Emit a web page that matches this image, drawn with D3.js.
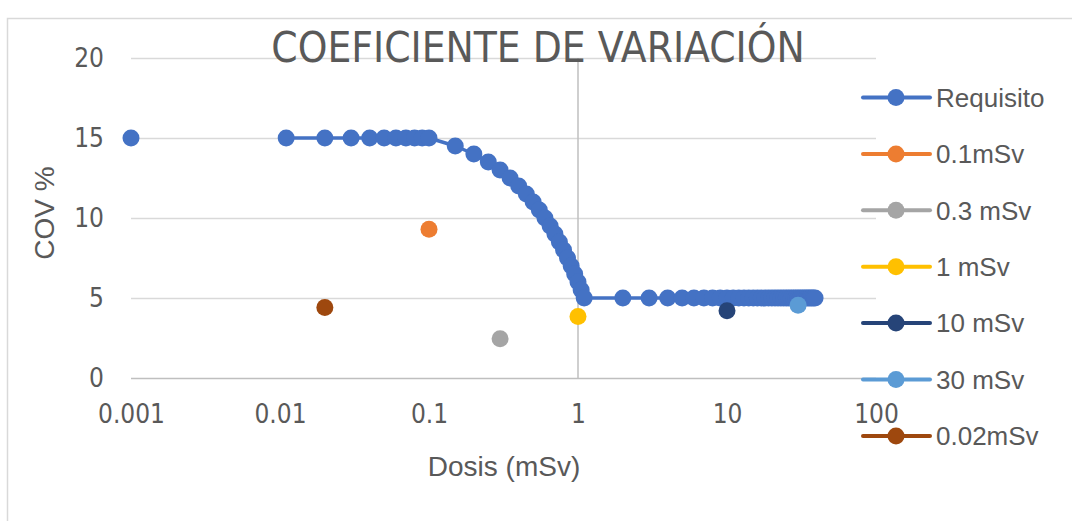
<!DOCTYPE html>
<html>
<head>
<meta charset="utf-8">
<script src="https://cdn.jsdelivr.net/npm/d3@7"></script>
<style>
  html, body { margin: 0; padding: 0; background: #fff; }
  svg { display: block; }
  text { fill: #595959; }
</style>
</head>
<body>
<svg id="chart" width="1072" height="521"></svg>
<script>
// ---------- data ----------
const chartTitle = "COEFICIENTE DE VARIACIÓN";
const xTitle = "Dosis (mSv)";
const yTitle = "COV %";
const xTicks = [0.001, 0.01, 0.1, 1, 10, 100];
const xTickLabels = ["0.001", "0.01", "0.1", "1", "10", "100"];
const yTicks = [0, 5, 10, 15, 20];

// "Requisito" series (null = gap in the line)
const reqX = [0.001, null, 0.011, 0.02, 0.03, 0.04, 0.05, 0.06, 0.07, 0.08, 0.09, 0.1,
  0.15, 0.2, 0.25, 0.3, 0.35, 0.4, 0.45, 0.5, 0.55, 0.6, 0.65, 0.7, 0.75, 0.8, 0.85, 0.9, 0.95, 1.0, 1.05, 1.1,
  2, 3, 4, 5, 6, 7, 8, 9, 10, 11, 12, 13, 14, 15, 16, 17, 18, 19, 20,
  21, 22, 23, 24, 25, 26, 27, 28, 29, 30, 31, 32, 33, 34, 35, 36, 37, 38, 39, 40];
const reqY = [15, null, 15, 15, 15, 15, 15, 15, 15, 15, 15, 15,
  14.5, 14, 13.5, 13, 12.5, 12, 11.5, 11, 10.5, 10, 9.5, 9, 8.5, 8, 7.5, 7, 6.5, 6, 5.5, 5,
  5, 5, 5, 5, 5, 5, 5, 5, 5, 5, 5, 5, 5, 5, 5, 5, 5, 5, 5,
  5, 5, 5, 5, 5, 5, 5, 5, 5, 5, 5, 5, 5, 5, 5, 5, 5, 5, 5];

// single-point measurement series
const measNames  = ["0.1mSv", "0.3 mSv", "1 mSv", "10 mSv", "30 mSv", "0.02mSv"];
const measX      = [0.1, 0.3, 1, 10, 30, 0.02];
const measY      = [9.3, 2.45, 3.85, 4.2, 4.55, 4.4];
const measColors = ["#ED7D31", "#A5A5A5", "#FFC000", "#264478", "#5B9BD5", "#9E480E"];
const reqName = "Requisito";
const reqColor = "#4472C4";

// ---------- layout ----------
const svg = d3.select("#chart");
const plot = { left: 131, right: 876, top: 58, bottom: 378 };
const x = d3.scaleLog().domain([0.001, 100]).range([plot.left, plot.right]);
const y = d3.scaleLinear().domain([0, 20]).range([plot.bottom, plot.top]);
const tickFont = "'Liberation Sans Narrow', 'DejaVu Sans Condensed', sans-serif";
const bodyFont = "'Liberation Sans', Arial, sans-serif";

svg.append("rect").attr("width", 1072).attr("height", 521).attr("fill", "#fff");
// chart border
svg.append("rect").attr("x", 7.5).attr("y", 18.5).attr("width", 1100).attr("height", 600)
  .attr("fill", "none").attr("stroke", "#d9d9d9").attr("stroke-width", 1.5);

// gridlines (y)
const gy = svg.append("g")
  .attr("transform", `translate(${plot.left},0)`)
  .call(d3.axisLeft(y).tickValues(yTicks).tickSize(-(plot.right - plot.left)).tickFormat(""));
gy.select(".domain").remove();
gy.selectAll(".tick line").attr("stroke", "#d9d9d9").attr("stroke-width", 1.5);
gy.selectAll(".tick").filter(d => d === 0).select("line").attr("stroke", "#bfbfbf");

// vertical axis line crossing at x = 1
svg.append("line")
  .attr("x1", x(1)).attr("x2", x(1)).attr("y1", plot.top).attr("y2", plot.bottom)
  .attr("stroke", "#bfbfbf").attr("stroke-width", 1.5);

// y tick labels
const yl = svg.append("g")
  .attr("transform", `translate(104,0)`)
  .call(d3.axisLeft(y).tickValues(yTicks).tickSize(0).tickPadding(0));
yl.select(".domain").remove();
yl.selectAll("text").style("font-family", tickFont).style("font-size", "26px").attr("fill", "#595959");

// x tick labels
const xl = svg.append("g")
  .attr("transform", `translate(0,405)`)
  .call(d3.axisBottom(x).tickValues(xTicks).tickSize(0).tickPadding(0)
    .tickFormat((d, i) => xTickLabels[i]));
xl.select(".domain").remove();
xl.selectAll("text").style("font-family", tickFont).style("font-size", "26px").attr("fill", "#595959");

// titles
svg.append("text").attr("x", 538).attr("y", 62).attr("text-anchor", "middle")
  .style("font-family", tickFont).style("font-size", "42px").text(chartTitle);
svg.append("text").attr("x", 504).attr("y", 476).attr("text-anchor", "middle")
  .style("font-family", bodyFont).style("font-size", "28px").text(xTitle);
svg.append("text").attr("transform", "translate(54,213) rotate(-90)").attr("text-anchor", "middle")
  .style("font-family", bodyFont).style("font-size", "28px").text(yTitle);

// Requisito line + markers
const reqData = reqX.map((v, i) => ({ x: v, y: reqY[i] }));
const line = d3.line().defined(d => d.x != null && d.y != null).x(d => x(d.x)).y(d => y(d.y));
svg.append("path").datum(reqData).attr("d", line)
  .attr("fill", "none").attr("stroke", reqColor).attr("stroke-width", 3.5).attr("stroke-linejoin", "round");
svg.append("g").selectAll("circle").data(reqData.filter(d => d.x != null && d.y != null)).join("circle")
  .attr("cx", d => x(d.x)).attr("cy", d => y(d.y)).attr("r", 8.5).attr("fill", reqColor);

// measurement points
svg.append("g").selectAll("circle").data(measX.map((v, i) => i)).join("circle")
  .attr("cx", i => x(measX[i])).attr("cy", i => y(measY[i])).attr("r", 8.5).attr("fill", i => measColors[i]);

// legend
const legNames = [reqName, ...measNames];
const legColors = [reqColor, ...measColors];
const lg = svg.append("g");
const legY0 = 97.5, legStep = 56.4;
legNames.forEach((n, i) => {
  const yy = legY0 + i * legStep;
  lg.append("line").attr("x1", 863).attr("x2", 930).attr("y1", yy).attr("y2", yy)
    .attr("stroke", legColors[i]).attr("stroke-width", 4).attr("stroke-linecap", "round");
  lg.append("circle").attr("cx", 896).attr("cy", yy).attr("r", 8.5).attr("fill", legColors[i]);
  lg.append("text").attr("x", 936).attr("y", yy).attr("dy", "0.36em")
    .style("font-family", bodyFont).style("font-size", "26px").text(n);
});
</script>
</body>
</html>
